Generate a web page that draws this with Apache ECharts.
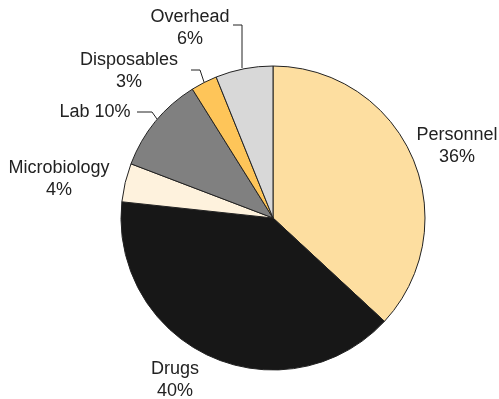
<!DOCTYPE html>
<html>
<head>
<meta charset="utf-8">
<script src="https://cdn.jsdelivr.net/npm/echarts@6/dist/echarts.min.js"></script>
<style>html,body{margin:0;padding:0;background:#fff}#c{width:499px;height:399px}</style>
</head>
<body>
<div id="c"></div>
<script>
// Data (clockwise from 12 o'clock)
const categories = ['Personnel', 'Drugs', 'Microbiology', 'Lab', 'Disposables', 'Overhead'];
const sliceValues = [36.9, 39.8, 4.1, 10.3, 2.8, 6.1];
const labelTexts = ['Personnel\n36%', 'Drugs\n40%', 'Microbiology\n4%', 'Lab 10%', 'Disposables\n3%', 'Overhead\n6%'];
const colors = ['#FDDEA0', '#171717', '#FEF2DD', '#808080', '#FEC559', '#D8D8D8'];

// Label layout (style only)
const labelPos = [[457, 146], [175, 380], [59, 179], [95, 112], [129, 71], [190, 28]];
const leaderLines = [null, null, null,
  [[157, 119], [152, 112], [137, 112]],
  [[204, 82], [200, 70], [191, 70]],
  [[242, 68], [242, 25], [233, 25]]];

const chart = echarts.init(document.getElementById('c'), null, {renderer: 'canvas'});
chart.setOption({
  animation: false,
  series: [{
    type: 'pie',
    center: [273, 218],
    radius: 152,
    startAngle: 90,
    clockwise: true,
    avoidLabelOverlap: false,
    itemStyle: {borderColor: '#222', borderWidth: 1},
    emphasis: {disabled: true},
    label: {
      show: true,
      fontFamily: 'Liberation Sans, Arial, sans-serif',
      fontSize: 18,
      lineHeight: 22,
      color: '#222',
      align: 'center',
      formatter: p => labelTexts[p.dataIndex]
    },
    labelLine: {show: true, lineStyle: {color: '#222', width: 1}},
    labelLayout: function (p) {
      const i = p.dataIndex;
      const o = {x: labelPos[i][0], y: labelPos[i][1], align: 'center', verticalAlign: 'middle'};
      if (leaderLines[i]) o.labelLinePoints = leaderLines[i];
      return o;
    },
    data: categories.map((c, i) => ({
      name: c,
      value: sliceValues[i],
      itemStyle: {color: colors[i]},
      labelLine: {show: !!leaderLines[i]}
    }))
  }]
});
</script>
</body>
</html>
